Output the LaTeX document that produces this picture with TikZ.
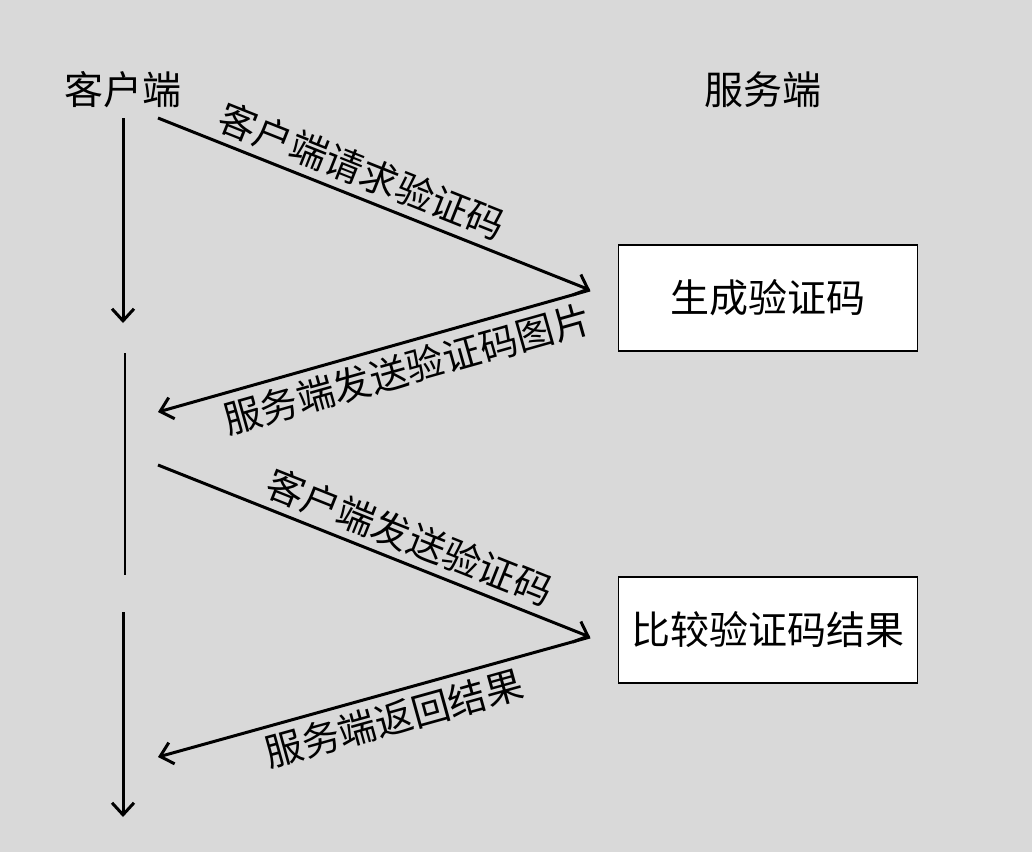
\documentclass[tikz,border=0pt]{standalone}
\usepackage{fontspec}
\setmainfont{Noto Sans CJK SC}
\usetikzlibrary{arrows.meta}
\definecolor{bggray}{HTML}{D9D9D9}
\tikzset{every picture/.style={line width=3pt}}

\begin{document}
\begin{tikzpicture}[x=1pt,y=-1pt,
    msg/.style={-{Straight Barb[length=12pt,width=22pt,line width=3pt]}},
    proc/.style={draw,line width=1.5pt,fill=white,minimum width=299pt,minimum height=106pt,font=\fontsize{39}{44}\selectfont},
    lbl/.style={font=\fontsize{38}{42}\selectfont,sloped,inner sep=7pt}]
    \fill[bggray] (0,0) rectangle (1032,852);
    \useasboundingbox (0,0) rectangle (1032,852);
    % headings
    \node[font=\fontsize{39}{44}\selectfont] (client) at (123,90) {客户端};
    \node[font=\fontsize{39}{44}\selectfont] (server) at (763,90) {服务端};
    % server boxes
    \node[proc] (gen) at (768,298) {生成验证码};
    \node[proc] (cmp) at (768,630) {比较验证码结果};
    % end points
    \coordinate (c1) at (158,118);
    \coordinate (s1) at (590,290);
    \coordinate (c2) at (158,412);
    \coordinate (c3) at (158,465);
    \coordinate (s2) at (590,637);
    \coordinate (c4) at (158,757);
    \coordinate (t1) at (123,118);
    \coordinate (t2) at (123,323);
    \coordinate (t3) at (125,353);
    \coordinate (t4) at (125,575);
    \coordinate (t5) at (123,612);
    \coordinate (t6) at (123,817);
    % client timeline
    \draw[msg] (t1) -- (t2);
    \draw[line width=1.5pt] (t3) -- (t4);
    \draw[msg] (t5) -- (t6);
    % messages
    \draw[msg] (c1) -- node[lbl,above,pos=0.45] {客户端请求验证码} (s1);
    \draw[msg] (s1) -- node[lbl,below,pos=0.44] {服务端发送验证码图片} (c2);
    \draw[msg] (c3) -- node[lbl,above,pos=0.56] {客户端发送验证码} (s2);
    \draw[msg] (s2) -- node[lbl,below,pos=0.47] {服务端返回结果} (c4);
\end{tikzpicture}
\end{document}
